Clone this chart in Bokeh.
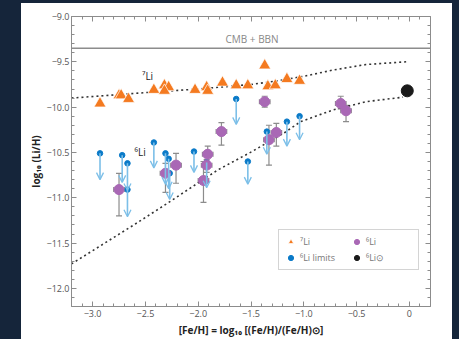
from bokeh.plotting import figure
from bokeh.models import (ColumnDataSource, LinearAxis, SingleIntervalTicker, Whisker, TeeHead,
                          Arrow, OpenHead, Legend, LegendItem, Span, Label, CustomJSTickFormatter,
                          Spacer, Range1d)
from bokeh.layouts import row, column
from bokeh.embed import file_html
from bokeh.resources import INLINE

# ---- data ----
li7_feh = [-2.93, -2.75, -2.73, -2.66, -2.42, -2.32, -2.28, -2.32, -2.03, -1.92, -1.91, -1.77,
           -1.64, -1.53, -1.37, -1.34, -1.27, -1.16, -1.04]
li7_ab = [-9.96, -9.87, -9.87, -9.91, -9.81, -9.76, -9.78, -9.82, -9.81, -9.78, -9.82, -9.73,
          -9.76, -9.76, -9.54, -9.77, -9.76, -9.69, -9.71]

li6_feh = [-2.75, -2.31, -2.21, -1.95, -1.92, -1.91, -1.78, -1.37, -1.33, -1.26, -0.65, -0.60]
li6_ab = [-10.91, -10.73, -10.64, -10.81, -10.64, -10.52, -10.27, -9.94, -10.36, -10.28, -9.96, -10.04]
li6_hi = [-10.73, -10.62, -10.51, -10.60, -10.58, -10.43, -10.17, -9.88, -10.20, -10.18, -9.88, -9.98]
li6_lo = [-11.20, -10.94, -10.84, -11.05, -10.72, -10.62, -10.42, -10.00, -10.64, -10.43, -10.02, -10.16]
li6_xerr = [0.05, 0.05, 0.05, 0.05, 0.05, 0.05, 0.05, 0.05, 0.05, 0.05, 0.05, 0.05]

lim_feh = [-2.93, -2.72, -2.67, -2.67, -2.42, -2.31, -2.28, -2.27, -2.04, -1.92, -1.64, -1.53,
           -1.35, -1.16, -1.04]
lim_ab = [-10.51, -10.53, -10.62, -10.91, -10.39, -10.51, -10.57, -10.73, -10.49, -10.61, -9.91,
          -10.60, -10.27, -10.16, -10.10]
lim_tip = [-10.80, -10.83, -10.92, -11.21, -10.67, -10.85, -10.90, -11.02, -10.72, -10.89, -10.19,
           -10.85, -10.52, -10.43, -10.36]

sun_feh = [-0.02]
sun_ab = [-9.82]

model7_feh = [-3.2, -2.5, -2.0, -1.5, -1.25, -1.0, -0.72, -0.41, -0.03]
model7_ab = [-9.90, -9.84, -9.80, -9.75, -9.71, -9.66, -9.59, -9.53, -9.50]
model6_feh = [-3.2, -2.61, -2.29, -1.98, -1.81, -1.49, -1.18, -1.03, -0.72, -0.41, -0.06]
model6_ab = [-11.73, -11.30, -11.06, -10.82, -10.69, -10.49, -10.28, -10.16, -10.03, -9.94, -9.89]

cmb_bbn = -9.35

x_ticks = [-3.0, -2.5, -2.0, -1.5, -1.0, -0.5, 0.0]
x_labels = ["\u22123.0", "\u22122.5", "\u22122.0", "\u22121.5", "\u22121.0", "\u22120.5", "0"]
y_ticks = [-12.0, -11.5, -11.0, -10.5, -10.0, -9.5, -9.0]
y_labels = ["\u221212.0", "\u221211.5", "\u221211.0", "\u221210.5", "\u221210.0", "\u22129.5", "\u22129.0"]

# ---- styling ----
FONT = "Open Sans"
ORANGE = "#f47a20"
PURPLE = "#a968b5"
BLUE = "#0a7ac8"
ARROW = "#7cbfe8"
GRAY = "#8c8c8c"
DARK = "#15253a"

p = figure(width=431, height=336, x_range=Range1d(-3.2, 0.2), y_range=Range1d(-12.2, -9.0),
           output_backend="svg", toolbar_location=None,
           min_border_left=50, min_border_right=22, min_border_top=13, min_border_bottom=32)
p.grid.visible = False
p.outline_line_color = None
p.background_fill_color = "white"
p.border_fill_color = "white"


def style_axis(ax, labels=True):
    ax.axis_line_color = GRAY
    ax.major_tick_line_color = GRAY
    ax.minor_tick_line_color = GRAY
    ax.major_tick_in = 5
    ax.major_tick_out = 0
    ax.minor_tick_in = 3
    ax.minor_tick_out = 0
    ax.major_label_text_font = FONT
    ax.major_label_text_font_size = "9px"
    ax.major_label_text_color = "#555555"
    ax.major_label_standoff = 3
    if not labels:
        ax.formatter = CustomJSTickFormatter(code="return ''")
        ax.major_label_standoff = 0


p.xaxis.ticker = SingleIntervalTicker(interval=0.5, num_minor_ticks=5)
p.yaxis.ticker = SingleIntervalTicker(interval=0.5, num_minor_ticks=5)
p.xaxis.major_label_overrides = dict(zip(x_ticks, x_labels))
p.yaxis.major_label_overrides = dict(zip(y_ticks, y_labels))
style_axis(p.xaxis[0])
style_axis(p.yaxis[0])
p.yaxis.major_label_standoff = 2
p.xaxis.axis_label = "[Fe/H] = log\u2081\u2080 [(Fe/H)/(Fe/H)\u2299]"
p.yaxis.axis_label = "log\u2081\u2080 (Li/H)"
for ax in (p.xaxis[0], p.yaxis[0]):
    ax.axis_label_text_font = FONT
    ax.axis_label_text_font_style = "bold"
    ax.axis_label_text_font_size = "10px"
    ax.axis_label_text_color = "#222222"
p.xaxis.axis_label_standoff = 3
p.yaxis.axis_label_standoff = 1

top_ax = LinearAxis(ticker=SingleIntervalTicker(interval=0.5, num_minor_ticks=5))
right_ax = LinearAxis(ticker=SingleIntervalTicker(interval=0.5, num_minor_ticks=5))
style_axis(top_ax, labels=False)
style_axis(right_ax, labels=False)
p.add_layout(top_ax, "above")
p.add_layout(right_ax, "right")

# CMB + BBN line
p.add_layout(Span(location=cmb_bbn, dimension="width", line_color=GRAY, line_width=1.5))
p.add_layout(Label(x=-1.49, y=cmb_bbn, y_offset=9, text="CMB + BBN", text_align="center",
                   text_baseline="middle", text_font=FONT, text_font_size="10px",
                   text_color="#888888"))

# model curves
p.line(model7_feh, model7_ab, line_color="#333333", line_width=1.6, line_dash="2 3")
p.line(model6_feh, model6_ab, line_color="#333333", line_width=1.6, line_dash="2 3")

# 7Li
r7 = p.scatter(li7_feh, li7_ab, marker="triangle", size=12, fill_color=ORANGE,
               line_color="white", line_width=0.7)

# 6Li limits (arrows)
lim_src = ColumnDataSource(dict(x=lim_feh, y=lim_ab, tip=lim_tip))
p.add_layout(Arrow(source=lim_src, x_start="x", y_start="y", x_end="x", y_end="tip",
                   line_color=ARROW, line_width=1.6,
                   end=OpenHead(size=7, line_color=ARROW, line_width=1.3)))
rlim = p.scatter("x", "y", source=lim_src, size=5.5, fill_color=BLUE, line_color=BLUE)

# 6Li detections with error bars
xl = [a - e for a, e in zip(li6_feh, li6_xerr)]
xu = [a + e for a, e in zip(li6_feh, li6_xerr)]
li6_src = ColumnDataSource(dict(x=li6_feh, y=li6_ab, hi=li6_hi, lo=li6_lo, xl=xl, xu=xu))
p.add_layout(Whisker(source=li6_src, base="x", upper="hi", lower="lo", dimension="height",
                     line_color=GRAY, line_width=1.2,
                     upper_head=TeeHead(size=6, line_color=GRAY, line_width=1.2),
                     lower_head=TeeHead(size=6, line_color=GRAY, line_width=1.2)))
p.add_layout(Whisker(source=li6_src, base="y", upper="xu", lower="xl", dimension="width",
                     line_color=GRAY, line_width=1.2,
                     upper_head=TeeHead(size=5, line_color=GRAY, line_width=1.2),
                     lower_head=TeeHead(size=5, line_color=GRAY, line_width=1.2)))
r6 = p.scatter("x", "y", source=li6_src, size=10, fill_color=PURPLE, line_color=PURPLE)

# solar
rsun = p.scatter(sun_feh, sun_ab, size=12, fill_color="#1a1a1a", line_color="#1a1a1a")

# in-plot labels
p.add_layout(Label(x=-2.48, y=-9.66, text="\u2077Li", text_align="center", text_baseline="middle",
                   text_font=FONT, text_font_size="10px", text_color="#222222"))
p.add_layout(Label(x=-2.55, y=-10.50, text="\u2076Li", text_align="center", text_baseline="middle",
                   text_font=FONT, text_font_size="10px", text_color="#222222"))

legend = Legend(items=[LegendItem(label="\u2077Li", renderers=[r7]),
                       LegendItem(label="\u2076Li limits", renderers=[rlim]),
                       LegendItem(label="\u2076Li", renderers=[r6]),
                       LegendItem(label="\u2076Li\u2299", renderers=[rsun])],
                ncols=2, location=(207, 36), label_text_font=FONT, label_text_font_size="9px",
                label_text_color="#777777", glyph_width=13, glyph_height=13, label_standoff=3,
                spacing=3, padding=5, margin=0, label_width=47, label_height=13,
                border_line_color="#aaaaaa", border_line_width=1, background_fill_alpha=1)
p.add_layout(legend)

top_band = Spacer(width=459, height=3, styles={"background-color": DARK})
left_band = Spacer(width=21, height=336, styles={"background-color": DARK})
right_band = Spacer(width=7, height=336, styles={"background-color": DARK})
layout = column(top_band, row(left_band, p, right_band))

open("out.html", "w").write(file_html(layout, INLINE))
